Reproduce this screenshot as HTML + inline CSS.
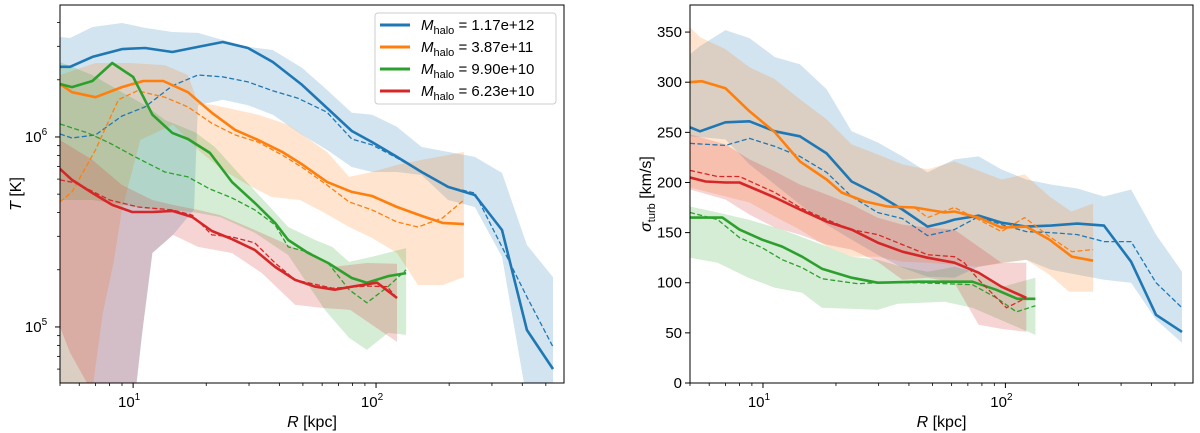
<!DOCTYPE html>
<html><head><meta charset="utf-8">
<style>
html,body{margin:0;padding:0;background:#fff;}
svg{display:block;font-family:"Liberation Sans","DejaVu Sans",sans-serif;}
</style></head>
<body>
<svg id="fig" width="1200" height="433" viewBox="0 0 1200 433" xmlns="http://www.w3.org/2000/svg">
<defs>
<clipPath id="clipL"><rect x="60" y="5" width="504" height="378"/></clipPath>
<clipPath id="clipR"><rect x="690" y="5" width="503" height="378"/></clipPath>
</defs>
<g id="left-plot">
<g id="Lbands" clip-path="url(#clipL)"></g>
<g id="Llines" clip-path="url(#clipL)"></g>
<g id="Laxes"></g>
</g>
<g id="right-plot">
<g id="Rbands" clip-path="url(#clipR)"></g>
<g id="Rlines" clip-path="url(#clipR)"></g>
<g id="Raxes"></g>
</g>
<g>
<rect x="375" y="13" width="181" height="91" rx="3" fill="#fff" fill-opacity="0.8" stroke="#ccc" stroke-width="1"/>
<g><line x1="380" y1="25" x2="410" y2="25" stroke="#1f77b4" stroke-width="3"/><text x="421" y="30" font-size="15"><tspan font-style="italic">M</tspan><tspan font-size="11" dy="4">halo</tspan><tspan dy="-4"> = 1.17e+12</tspan></text></g>
<g><line x1="380" y1="47" x2="410" y2="47" stroke="#ff7f0e" stroke-width="3"/><text x="421" y="52" font-size="15"><tspan font-style="italic">M</tspan><tspan font-size="11" dy="4">halo</tspan><tspan dy="-4"> = 3.87e+11</tspan></text></g>
<g><line x1="380" y1="69" x2="410" y2="69" stroke="#2ca02c" stroke-width="3"/><text x="421" y="74" font-size="15"><tspan font-style="italic">M</tspan><tspan font-size="11" dy="4">halo</tspan><tspan dy="-4"> = 9.90e+10</tspan></text></g>
<g><line x1="380" y1="91" x2="410" y2="91" stroke="#d62728" stroke-width="3"/><text x="421" y="96" font-size="15"><tspan font-style="italic">M</tspan><tspan font-size="11" dy="4">halo</tspan><tspan dy="-4"> = 6.23e+10</tspan></text></g>
</g>
</svg>
<script>
// ---------- LEFT PANEL DATA (R in kpc, T in K) ----------
const blueSolidR=[5.0,5.5,6.8,9.0,11.2,14.5,18.5,23.4,29.7,37.6,49.6,62.8,79.5,96.3,122,154,198,255,330,418,535];
const blueSolidT=[2.34e6,2.34e6,2.64e6,2.90e6,2.94e6,2.80e6,2.98e6,3.16e6,2.94e6,2.48e6,1.88e6,1.42e6,1.075e6,0.94e6,0.785e6,0.654e6,0.546e6,0.495e6,0.324e6,0.0964e6,0.0601e6];
const blueDashR=[5.0,5.6,7.0,9.0,11.2,14.5,18.5,23.4,29.7,37.6,47.7,62.8,79.5,96.3,122,154,198,255,330,418,535];
const blueDashT=[1.037e6,0.988e6,1.025e6,1.29e6,1.44e6,1.86e6,2.12e6,2.07e6,1.95e6,1.75e6,1.60e6,1.35e6,0.976e6,0.908e6,0.775e6,0.654e6,0.546e6,0.507e6,0.264e6,0.144e6,0.0785e6];
const blueHiR=[5.0,5.5,6.8,9.0,11.2,14.5,18.5,23.4,29.7,37.6,49.6,62.8,79.5,96.3,122,154,198,255,330,418,535];
const blueHiT=[3.36e6,3.32e6,3.79e6,3.98e6,3.75e6,3.57e6,3.53e6,3.24e6,2.98e6,2.87e6,2.31e6,1.77e6,1.34e6,1.31e6,1.13e6,0.886e6,0.834e6,0.785e6,0.647e6,0.27e6,0.183e6];
const blueLoR=[5.0,7.7,9.9,10.9,12.0,14.6,17.8,18.5,23.4,29.7,37.6,49.6,62.8,79.5,96.3,122,154,198,255,330,418,535];
const blueLoT=[0.05e6,0.03e6,0.03e6,0.093e6,0.245e6,0.305e6,0.413e6,1.47e6,1.57e6,1.47e6,1.31e6,1.025e6,0.855e6,0.695e6,0.654e6,0.654e6,0.631e6,0.466e6,0.428e6,0.234e6,0.0413e6,0.0325e6];

const orangeSolidR=[5.0,5.6,7.0,9.0,11.0,13.3,16.8,21.1,26.3,32.7,41.1,50,62.8,79.5,96.3,122,154,188,230];
const orangeSolidT=[1.90e6,1.72e6,1.62e6,1.83e6,1.97e6,1.97e6,1.72e6,1.34e6,1.09e6,0.964e6,0.834e6,0.713e6,0.58e6,0.514e6,0.489e6,0.428e6,0.384e6,0.353e6,0.348e6];
const orangeDashR=[5.0,5.6,7.0,8.7,10.4,13.5,16.8,21.1,26.3,32.7,41.1,50,62.8,77.5,96.3,122,149,188,230];
const orangeDashT=[0.455e6,0.514e6,0.855e6,1.57e6,1.75e6,1.62e6,1.44e6,1.18e6,1.025e6,0.94e6,0.804e6,0.687e6,0.559e6,0.455e6,0.413e6,0.357e6,0.336e6,0.375e6,0.466e6];
const orangeHiR=[5.0,7.0,9.7,13.5,16.8,18.5,21.7,32.7,43.5,62.8,77.5,96.3,122,154,198,230];
const orangeHiT=[2.12e6,2.45e6,2.45e6,2.39e6,2.12e6,1.51e6,1.47e6,1.31e6,1.16e6,0.834e6,0.616e6,0.654e6,0.713e6,0.757e6,0.804e6,0.834e6];
const orangeLoR=[5.0,6.5,6.8,7.5,8.3,9.0,10.7,14.6,18.5,23.4,29.7,37.2,48.6,61.6,77.5,96.3,122,149,188,230];
const orangeLoT=[0.03e6,0.03e6,0.0466e6,0.118e6,0.217e6,0.413e6,0.964e6,1.16e6,0.855e6,0.67e6,0.559e6,0.483e6,0.466e6,0.398e6,0.336e6,0.294e6,0.245e6,0.166e6,0.166e6,0.183e6];

const greenSolidR=[5.0,5.6,6.8,8.2,10,12.0,14.5,16.8,20.7,25.5,31.7,38.4,43.5,52.5,63.5,79.5,91.7,112,133];
const greenSolidT=[1.90e6,1.83e6,1.97e6,2.45e6,2.07e6,1.31e6,1.05e6,0.976e6,0.824e6,0.58e6,0.45e6,0.353e6,0.287e6,0.245e6,0.217e6,0.181e6,0.171e6,0.185e6,0.192e6];
const greenDashR=[5.0,6.5,8.0,10.2,13.5,16.8,20.7,25.5,31.7,38.4,43.5,52.5,63.5,77.5,91.7,112,133];
const greenDashT=[1.17e6,1.05e6,0.93e6,0.785e6,0.654e6,0.616e6,0.532e6,0.478e6,0.413e6,0.344e6,0.264e6,0.248e6,0.217e6,0.157e6,0.134e6,0.163e6,0.2e6];
const greenHiR=[5.0,6.8,9.0,11.2,13.5,18.0,21.7,27.6,35.9,43.5,56.1,66,77.5,96.3,133];
const greenHiT=[2.48e6,2.12e6,1.72e6,1.47e6,1.23e6,1.06e6,0.886e6,0.631e6,0.439e6,0.336e6,0.287e6,0.264e6,0.22e6,0.234e6,0.26e6];
const greenLoR=[5.0,6.8,9.0,12.0,14.6,18.5,22.8,31.7,43.5,61.6,77.5,91.7,112,133];
const greenLoT=[0.466e6,0.466e6,0.439e6,0.413e6,0.413e6,0.398e6,0.379e6,0.313e6,0.239e6,0.123e6,0.0876e6,0.0757e6,0.093e6,0.0908e6];

const redSolidR=[5.0,5.6,6.8,8.2,9.9,12.0,14.5,17.5,21.1,25.5,31.7,38.4,46.4,56.1,67.6,81.9,101,122];
const redSolidT=[0.679e6,0.594e6,0.507e6,0.439e6,0.403e6,0.403e6,0.408e6,0.379e6,0.32e6,0.29e6,0.254e6,0.207e6,0.177e6,0.163e6,0.157e6,0.164e6,0.171e6,0.142e6];
const redDashR=[5.0,5.8,8.0,10.5,14.5,17.5,21.1,25.5,31.7,38.4,46.4,66.4,91.7,111,122];
const redDashT=[0.594e6,0.573e6,0.466e6,0.428e6,0.413e6,0.388e6,0.305e6,0.298e6,0.277e6,0.217e6,0.177e6,0.16e6,0.164e6,0.163e6,0.142e6];
const redHiR=[5.0,6.8,9.0,12.0,14.6,18.5,22.8,31.7,48.6,66.4,91.7,122];
const redHiT=[0.964e6,0.757e6,0.559e6,0.466e6,0.439e6,0.413e6,0.388e6,0.324e6,0.254e6,0.207e6,0.217e6,0.215e6];
const redLoR=[5.0,5.5,6.8,8.2,9.9,10.9,12.0,14.6,18.5,25.5,33.9,46.4,60,78.2,122];
const redLoT=[0.1e6,0.0732e6,0.045e6,0.0226e6,0.0325e6,0.093e6,0.245e6,0.305e6,0.264e6,0.245e6,0.192e6,0.131e6,0.126e6,0.123e6,0.0834e6];

// ---------- RIGHT PANEL DATA (R in kpc, sigma_turb in km/s) ----------
const sBlueSolidR=[5.0,5.5,7.0,8.8,11.2,14.2,18.3,23.2,29.7,37.6,47.7,56.1,61.6,77.5,96.3,122,154,198,255,330,418,535];
const sBlueSolid=[255,251,260,261,251,246,229,201,188,173,156,160,163,167,160,156,157,159,157,121,68,51];
const sBlueDashR=[5.0,7.0,8.8,11.2,14.2,18.3,23.2,29.7,37.6,47.7,61.6,77.5,96.3,122,154,198,255,330,418,535];
const sBlueDash=[239,237,244,236,226,210,186,170,164,147,153,166,158,151,150,148,141,141,100,75];
const sBlueHiR=[5.0,5.5,7.0,8.8,11.2,14.2,18.3,23.2,29.7,37.6,47.7,61.6,77.5,96.3,122,154,198,255,330,418,535];
const sBlueHi=[328,336,352,344,325,318,293,251,240,226,210,223,226,213,203,198,194,186,193,148,111];
const sBlueLoR=[5.0,7.0,8.8,11.2,14.2,18.3,23.2,29.7,37.6,47.7,61.6,77.5,96.3,122,154,198,255,330,418,535];
const sBlueLo=[246,243,218,198,178,158,143,128,115,106,105,116,120,123,113,108,103,100,63,40];

const sOrangeSolidR=[5.0,5.6,7.0,8.8,11.2,14.2,18.3,21.1,26.3,32.7,42.2,56.1,61.6,77.5,96.3,122,152,188,230];
const sOrangeSolid=[300,301,294,271,250,221,203,190,181,176,175,170,171,165,155,156,143,126,122];
const sOrangeDashR=[5.0,5.6,7.0,8.8,11.2,14.2,18.3,21.1,26.3,32.7,42.2,47.7,61.6,77.5,96.3,120,152,188,230];
const sOrangeDash=[300,301,294,271,250,221,203,190,181,176,175,165,175,163,151,165,146,131,133];
const sOrangeHiR=[5.0,5.5,7.0,8.8,11.2,14.2,18.3,23.2,29.7,37.6,47.7,61.6,96.3,120,152,187,230];
const sOrangeHi=[355,345,333,315,303,283,263,238,228,218,213,221,203,208,186,171,179];
const sOrangeLoR=[5.0,7.0,8.8,11.2,14.2,18.3,23.2,29.7,37.6,47.7,77.5,122,152,183,230];
const sOrangeLo=[195,186,180,166,153,136,126,126,121,120,116,123,108,91,91];

const sGreenSolidR=[5.0,6.8,8.0,9.9,12.0,14.5,17.5,23.2,29.7,43.5,56.1,73.1,91.7,112,133];
const sGreenSolid=[165,165,153,143,136,126,114,105,100,101,101,101,93,84,84];
const sGreenDashR=[5.0,6.5,8.0,9.9,12.0,14.5,17.5,24.6,29.7,43.5,73.1,91.7,111,133];
const sGreenDash=[170,163,145,135,123,115,104,99,100,100,98,85,71,77];
const sGreenHiR=[5.0,6.5,8.7,12.0,17.5,23.2,29.7,37.3,47.7,61.6,77.5,97.2,133];
const sGreenHi=[176,170,163,153,138,126,123,116,111,116,110,96,105];
const sGreenLoR=[5.0,6.5,8.7,11.2,14.5,17.5,29.7,35.9,56.1,73.1,133];
const sGreenLo=[125,120,105,95,90,75,73,79,81,75,48];

const sRedSolidR=[5.0,5.8,7.0,8.0,11.2,14.2,18.3,23.2,29.7,37.6,47.7,61.6,77.5,96.3,122];
const sRedSolid=[205,201,200,200,185,173,161,153,140,131,125,120,110,96,85];
const sRedDashR=[5.0,6.5,8.0,11.2,14.2,18.3,23.2,29.7,37.6,47.7,61.6,67.6,77.5,101,122];
const sRedDash=[212,206,206,190,175,163,153,148,138,128,126,120,103,75,85];
const sRedHiR=[5.0,7.0,8.8,11.2,14.2,18.3,23.2,29.7,37.6,47.7,61.6,77.5,96.3,122];
const sRedHi=[248,238,223,211,198,188,178,165,158,155,153,136,120,120];
const sRedLoR=[5.0,7.0,8.8,11.2,14.2,18.3,23.2,29.7,37.6,47.7,61.6,77.5,96.3,122];
const sRedLo=[193,183,168,155,148,138,133,121,103,105,100,58,54,51];

const xTickLabels=["10","10"];
const xTickExps=["1","2"];
const yTickLabelsL=["10","10"];
const yTickExpsL=["6","5"];
const yTicksR=[0,50,100,150,200,250,300,350];

// ---------- AXES ----------
const XMIN=5.0, XMAX=594;
const LX0=60, LX1=564, RX0=690, RX1=1193, Y0=5, Y1=383;
const TMIN=5.07e4, TMAX=4.95e6;
const SMIN=0, SMAX=377;
function xL(r){return LX0+(Math.log10(r)-Math.log10(XMIN))/(Math.log10(XMAX)-Math.log10(XMIN))*(LX1-LX0);}
function xR(r){return RX0+(Math.log10(r)-Math.log10(XMIN))/(Math.log10(XMAX)-Math.log10(XMIN))*(RX1-RX0);}
function yL(t){return Y1-(Math.log10(t)-Math.log10(TMIN))/(Math.log10(TMAX)-Math.log10(TMIN))*(Y1-Y0);}
function yR(s){return Y1-(s-SMIN)/(SMAX-SMIN)*(Y1-Y0);}

const NS="http://www.w3.org/2000/svg";
function mk(tag,attrs,parent){const e=document.createElementNS(NS,tag);for(const k in attrs)e.setAttribute(k,attrs[k]);parent.appendChild(e);return e;}
function pts(R,V,fx,fy){return R.map((r,i)=>fx(r).toFixed(1)+","+fy(V[i]).toFixed(1));}

function band(g,Rh,Vh,Rl,Vl,fx,fy,color,name){
  const p=pts(Rh,Vh,fx,fy).concat(pts(Rl,Vl,fx,fy).reverse());
  const el=mk("polygon",{points:p.join(" "),fill:color,"fill-opacity":0.2,stroke:"none"},g);
  
  
}
function line(g,R,V,fx,fy,color,dashed,name){
  const el=mk("polyline",{points:pts(R,V,fx,fy).join(" "),fill:"none",stroke:color,"stroke-width":dashed?1.3:2.6,"stroke-linejoin":"round","stroke-dasharray":dashed?"5,2.5":"none"},g);
  
  
}
const C={b:"#1f77b4",o:"#ff7f0e",g:"#2ca02c",r:"#d62728"};
const LB=document.getElementById("Lbands"), LL=document.getElementById("Llines");
const RB=document.getElementById("Rbands"), RL=document.getElementById("Rlines");

band(LB,blueHiR,blueHiT,blueLoR,blueLoT,xL,yL,C.b,"band-blue-T");
band(LB,orangeHiR,orangeHiT,orangeLoR,orangeLoT,xL,yL,C.o,"band-orange-T");
band(LB,greenHiR,greenHiT,greenLoR,greenLoT,xL,yL,C.g,"band-green-T");
band(LB,redHiR,redHiT,redLoR,redLoT,xL,yL,C.r,"band-red-T");
line(LL,blueSolidR,blueSolidT,xL,yL,C.b,false,"line-blue-T");
line(LL,blueDashR,blueDashT,xL,yL,C.b,true,"dashed-blue-T");
line(LL,orangeSolidR,orangeSolidT,xL,yL,C.o,false,"line-orange-T");
line(LL,orangeDashR,orangeDashT,xL,yL,C.o,true,"dashed-orange-T");
line(LL,greenSolidR,greenSolidT,xL,yL,C.g,false,"line-green-T");
line(LL,greenDashR,greenDashT,xL,yL,C.g,true,"dashed-green-T");
line(LL,redSolidR,redSolidT,xL,yL,C.r,false,"line-red-T");
line(LL,redDashR,redDashT,xL,yL,C.r,true,"dashed-red-T");

band(RB,sBlueHiR,sBlueHi,sBlueLoR,sBlueLo,xR,yR,C.b,"band-blue-sigma");
band(RB,sOrangeHiR,sOrangeHi,sOrangeLoR,sOrangeLo,xR,yR,C.o,"band-orange-sigma");
band(RB,sGreenHiR,sGreenHi,sGreenLoR,sGreenLo,xR,yR,C.g,"band-green-sigma");
band(RB,sRedHiR,sRedHi,sRedLoR,sRedLo,xR,yR,C.r,"band-red-sigma");
line(RL,sBlueSolidR,sBlueSolid,xR,yR,C.b,false,"line-blue-sigma");
line(RL,sBlueDashR,sBlueDash,xR,yR,C.b,true,"dashed-blue-sigma");
line(RL,sOrangeSolidR,sOrangeSolid,xR,yR,C.o,false,"line-orange-sigma");
line(RL,sOrangeDashR,sOrangeDash,xR,yR,C.o,true,"dashed-orange-sigma");
line(RL,sGreenSolidR,sGreenSolid,xR,yR,C.g,false,"line-green-sigma");
line(RL,sGreenDashR,sGreenDash,xR,yR,C.g,true,"dashed-green-sigma");
line(RL,sRedSolidR,sRedSolid,xR,yR,C.r,false,"line-red-sigma");
line(RL,sRedDashR,sRedDash,xR,yR,C.r,true,"dashed-red-sigma");

// ---------- AXES DRAWING ----------
function axes(g,x0,x1,fx,isLog,side){
  const fr=mk("rect",{x:x0,y:Y0,width:x1-x0,height:Y1-Y0,fill:"none",stroke:"#000","stroke-width":1},g);
  
  
  for(let d=0;d<=2;d++){for(let m=1;m<10;m++){const v=m*Math.pow(10,d);if(v<XMIN||v>XMAX)continue;const x=fx(v);const L=(m===1)?5:3;mk("line",{x1:x,y1:Y1,x2:x,y2:Y1+L,stroke:"#000","stroke-width":m===1?1:0.8},g);}}
  [10,100].forEach((v,i)=>{
    const t=mk("text",{x:fx(v)-4,y:Y1+24,"font-size":15,"text-anchor":"middle"},g);
    
    
    t.textContent=xTickLabels[i];
    const s=mk("tspan",{"font-size":10,dy:-7},t);s.textContent=xTickExps[i];
  });
  const xl=mk("text",{x:(x0+x1)/2,y:427,"font-size":16,"text-anchor":"middle"},g);
  
  
  const a=mk("tspan",{"font-style":"italic"},xl);a.textContent="R";
  const b=mk("tspan",{},xl);b.textContent=" [kpc]";
}
const LA=document.getElementById("Laxes"), RA=document.getElementById("Raxes");
axes(LA,LX0,LX1,xL,true,"left");
axes(RA,RX0,RX1,xR,true,"right");
for(let d=4;d<=6;d++){for(let m=1;m<10;m++){const v=m*Math.pow(10,d);if(v<TMIN||v>TMAX)continue;const y=yL(v);const L=(m===1)?5:3;mk("line",{x1:LX0-L,y1:y,x2:LX0,y2:y,stroke:"#000","stroke-width":m===1?1:0.8},LA);}}
[1e6,1e5].forEach((v,i)=>{
  const t=mk("text",{x:LX0-24,y:yL(v)+5,"font-size":15,"text-anchor":"middle"},LA);
  
  
  t.textContent=yTickLabelsL[i];
  const s=mk("tspan",{"font-size":10,dy:-7},t);s.textContent=yTickExpsL[i];
});
const yl=mk("text",{transform:"translate(21,194) rotate(-90)","font-size":16,"text-anchor":"middle"},LA);


{const a=mk("tspan",{"font-style":"italic"},yl);a.textContent="T";const b=mk("tspan",{},yl);b.textContent=" [K]";}
yTicksR.forEach(v=>{
  const y=yR(v);
  mk("line",{x1:RX0-5,y1:y,x2:RX0,y2:y,stroke:"#000","stroke-width":1},RA);
  const t=mk("text",{x:RX0-8,y:y+5,"font-size":15,"text-anchor":"end"},RA);
  
  
  t.textContent=String(v);
});
const yr=mk("text",{transform:"translate(651,194) rotate(-90)","font-size":16,"text-anchor":"middle"},RA);


{const a=mk("tspan",{"font-style":"italic"},yr);a.textContent="σ";const s=mk("tspan",{"font-size":11,dy:4},yr);s.textContent="turb";const b=mk("tspan",{dy:-4},yr);b.textContent=" [km/s]";}
</script>
</body></html>
